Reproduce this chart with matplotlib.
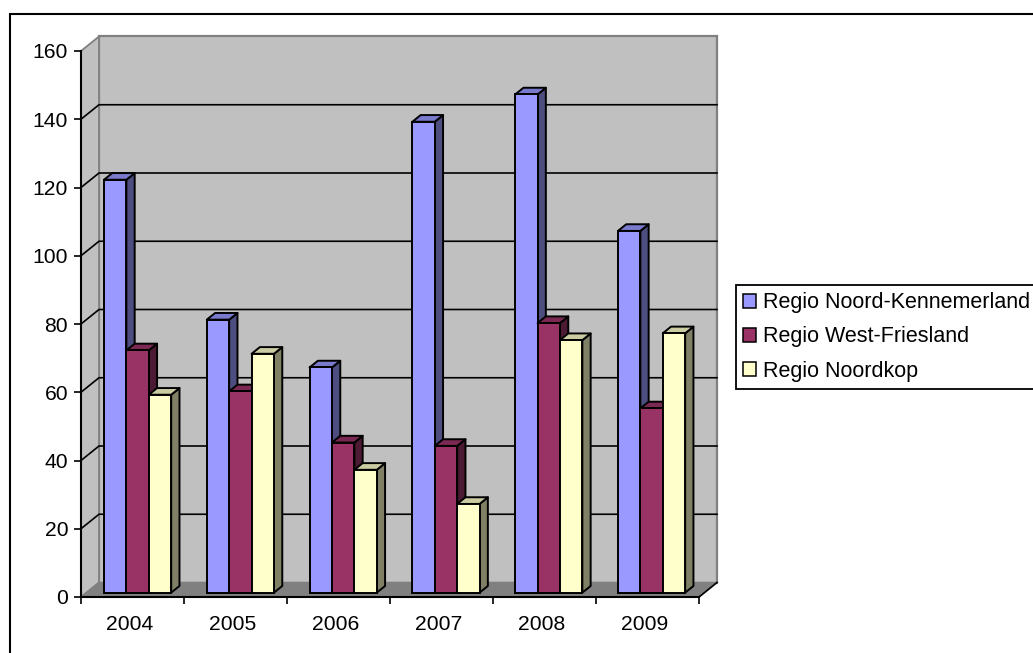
import matplotlib
matplotlib.use("Agg")
import matplotlib.pyplot as plt
from matplotlib.patches import Polygon, Rectangle
from matplotlib.ticker import FixedLocator, NullFormatter, FixedFormatter

plt.rcParams["font.family"] = ["Liberation Sans", "DejaVu Sans"]

years = ["2004", "2005", "2006", "2007", "2008", "2009"]
series_names = ["Regio Noord-Kennemerland", "Regio West-Friesland", "Regio Noordkop"]
noord_kennemerland = [121, 80, 66, 138, 146, 106]
west_friesland = [71, 59, 44, 43, 79, 54]
noordkop = [58, 70, 36, 26, 74, 76]
yticks = list(range(0, 161, 20))

face = ["#9999FF", "#993366", "#FFFFCC"]
side = ["#4D4D80", "#4D1A33", "#808066"]
top = ["#7A7ACC", "#7A2952", "#CCCCA3"]

W, H = 1033, 653
fig = plt.figure(figsize=(W / 100, H / 100), dpi=100, facecolor="white")
ax = fig.add_axes([81 / W, 1 - 597 / H, 618 / W, 546 / H])
ax.set_xlim(0, 6)
ax.set_ylim(0, 160)
ax.patch.set_visible(False)

# Oblique projection used for the pseudo-3D box: depth 1 is the back wall.
DX = 18 / 103
DY = 14.5 * 160 / 546


def proj(x, y, d):
    return (x + d * DX, y + d * DY)


def poly(points, **kw):
    ax.add_patch(Polygon(points, closed=True, clip_on=False, **kw))


# Walls and floor
poly([proj(0, 0, 1), proj(6, 0, 1), proj(6, 160, 1), proj(0, 160, 1)],
     facecolor="#C0C0C0", edgecolor="#808080", linewidth=1.6, zorder=1)
poly([proj(0, 0, 0), proj(0, 0, 1), proj(0, 160, 1), proj(0, 160, 0)],
     facecolor="#C0C0C0", edgecolor="#808080", linewidth=1.3, zorder=1)
poly([proj(0, 0, 0), proj(6, 0, 0), proj(6, 0, 1), proj(0, 0, 1)],
     facecolor="#808080", edgecolor="#808080", linewidth=1, zorder=1.5)

# Gridlines run along the side wall and across the back wall
for v in yticks[1:-1]:
    xs, ys = zip(proj(0, v, 0), proj(0, v, 1), proj(6, v, 1))
    ax.plot(xs, ys, color="black", lw=1.2, clip_on=False, zorder=2)
xs, ys = zip(proj(6, 0, 0), proj(6, 0, 1))
ax.plot(xs, ys, color="black", lw=1.2, clip_on=False, zorder=2)

# Clustered bars with oblique top and side faces
BAR_W = 22.4 / 103
BAR_START = 17.6 / 103
FRONT = 0.3
BAR_DEPTH = 0.46
EDGE = 1.4

z = 3.0
for c in range(len(years)):
    for s, vals in enumerate([noord_kennemerland, west_friesland, noordkop]):
        v = vals[c]
        x0 = c - 0.002 * c + BAR_START + s * BAR_W
        x1 = x0 + BAR_W
        d0, d1 = FRONT, FRONT + BAR_DEPTH
        poly([proj(x1, 0, d0), proj(x1, 0, d1), proj(x1, v, d1), proj(x1, v, d0)],
             facecolor=side[s], edgecolor="black", linewidth=EDGE, joinstyle="round", zorder=z)
        poly([proj(x0, v, d0), proj(x1, v, d0), proj(x1, v, d1), proj(x0, v, d1)],
             facecolor=top[s], edgecolor="black", linewidth=EDGE, joinstyle="round", zorder=z)
        bx, by = proj(x0, 0, d0)
        ax.bar(bx, v, width=BAR_W, bottom=by, align="edge", color=face[s],
               edgecolor="black", linewidth=EDGE, clip_on=False, zorder=z + 0.1)
        z += 0.2

# Axes
for name in ("top", "right"):
    ax.spines[name].set_visible(False)
for name in ("left", "bottom"):
    ax.spines[name].set_linewidth(1.5)
    ax.spines[name].set_zorder(50)
ax.xaxis.set_major_locator(FixedLocator(range(7)))
ax.xaxis.set_major_formatter(NullFormatter())
ax.xaxis.set_minor_locator(FixedLocator([i + 0.47 for i in range(6)]))
ax.xaxis.set_minor_formatter(FixedFormatter(years))
ax.tick_params(axis="x", which="major", length=5.2, width=1.2, direction="out")
ax.tick_params(axis="x", which="minor", length=0, pad=13, labelsize=15.2)
ax.set_yticks(yticks)
ax.tick_params(axis="y", length=5.2, width=1.2, direction="out", pad=4, labelsize=15.2)

# Chart frame running off the right and bottom edges
fig.add_artist(Rectangle((9.5 / W, -0.1), 1.1, 1 - 14 / H + 0.1, transform=fig.transFigure,
                         facecolor="none", edgecolor="black", linewidth=1.5))

handles = [Rectangle((0, 0), 1, 1, facecolor=f, edgecolor="black", linewidth=1.1) for f in face]
leg = fig.legend(handles, series_names, loc="upper left",
                 bbox_to_anchor=(736 / W, 1 - 285 / H), bbox_transform=fig.transFigure,
                 fontsize=15.5, frameon=True, fancybox=False, framealpha=1,
                 edgecolor="black", handlelength=0.6, handleheight=0.6,
                 handletextpad=0.3, labelspacing=0.61, borderpad=0.34, borderaxespad=0)
leg.get_frame().set_linewidth(1.3)

fig.savefig("out.png", dpi=100, facecolor="white")
